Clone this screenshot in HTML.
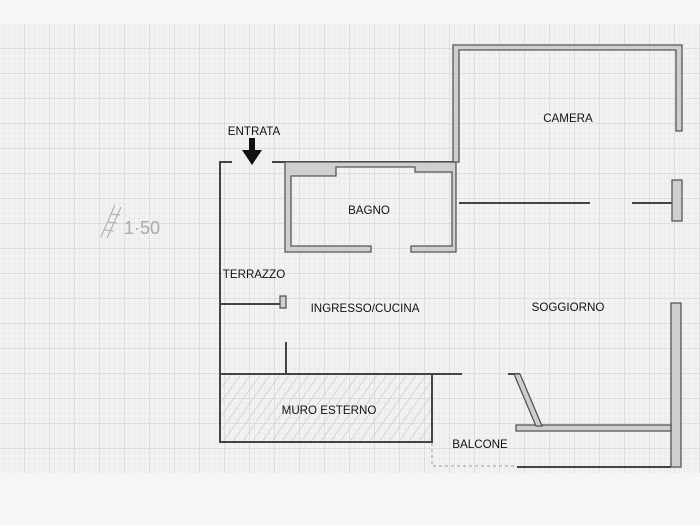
<!DOCTYPE html>
<html><head><meta charset="utf-8"><style>
html,body{margin:0;padding:0;width:700px;height:525px;background:#f5f5f5;overflow:hidden}
svg{display:block}
text{font-family:"Liberation Sans",sans-serif;font-size:11.6px;fill:#111}
</style></head><body>
<svg width="700" height="525" viewBox="0 0 700 525">
<defs>
<pattern id="minor" width="5" height="5" patternUnits="userSpaceOnUse" x="0" y="24">
<path d="M5 0V5M0 5H5" fill="none" stroke="#dedede" stroke-width="0.6"/>
</pattern>
<pattern id="major" width="25" height="25" patternUnits="userSpaceOnUse" x="0" y="24">
<path d="M25 0V25M0 25H25" fill="none" stroke="#c2c2c2" stroke-width="0.8"/>
</pattern>
<pattern id="hatch" width="8" height="8" patternUnits="userSpaceOnUse" patternTransform="rotate(-55)">
<path d="M0 4H8" stroke="#d0d0d0" stroke-width="0.8"/>
</pattern>
</defs>
<rect x="0" y="0" width="700" height="525" fill="#f6f6f6"/>
<rect x="0" y="24" width="700" height="449" fill="#f2f2f2"/>
<rect x="0" y="24" width="700" height="449" fill="url(#minor)"/>
<rect x="0" y="24" width="700" height="449" fill="url(#major)"/>

<g stroke="#444" stroke-width="2" fill="none">
<path d="M232 162H220V442H432V374"/>
<path d="M221 374H462"/>
<path d="M272 162H456"/>
<path d="M221 304H282"/>
<path d="M286 342V374"/>
<path d="M508 374H520"/>
<path d="M459 203H590M632 203H674"/>
<path d="M517 467H671"/>
</g>
<rect x="222" y="375" width="209" height="66" fill="url(#hatch)"/>
<path d="M432 443V466H517" stroke="#999" stroke-width="1" stroke-dasharray="3 3" fill="none"/>

<g fill="#cfcfcf" stroke="#555" stroke-width="1.3">
<path d="M285 162H456V252H411V246H452V172H415V167H336V176H291V246H371V252H285Z"/>
<path d="M453 45H682V131H676V50H459V162H453Z"/>
<rect x="672" y="180" width="10" height="41"/>
<rect x="280" y="296" width="6" height="12"/>
<rect x="671" y="303" width="10" height="164"/>
<rect x="516" y="425" width="155" height="6"/>
<path d="M514 374H520L542 426H536Z"/>
</g>

<path d="M249 138H255V150H262L252 165L242 150H249Z" fill="#111"/>

<text x="254" y="135" text-anchor="middle">ENTRATA</text>
<text x="369" y="214" text-anchor="middle">BAGNO</text>
<text x="568" y="122" text-anchor="middle">CAMERA</text>
<text x="254" y="278" text-anchor="middle">TERRAZZO</text>
<text x="365" y="312" text-anchor="middle">INGRESSO/CUCINA</text>
<text x="568" y="311" text-anchor="middle">SOGGIORNO</text>
<text x="329" y="414" text-anchor="middle">MURO ESTERNO</text>
<text x="480" y="448" text-anchor="middle">BALCONE</text>
<g stroke="#aaa" stroke-width="1" fill="none">
<path d="M101 237L115 205M107 238L121 207M105 230L114 231M108 222L117 223M111 214L120 215"/>
</g>
<text x="124" y="234" style="font-size:18px;fill:#aaa">1·50</text>
</svg>
</body></html>
